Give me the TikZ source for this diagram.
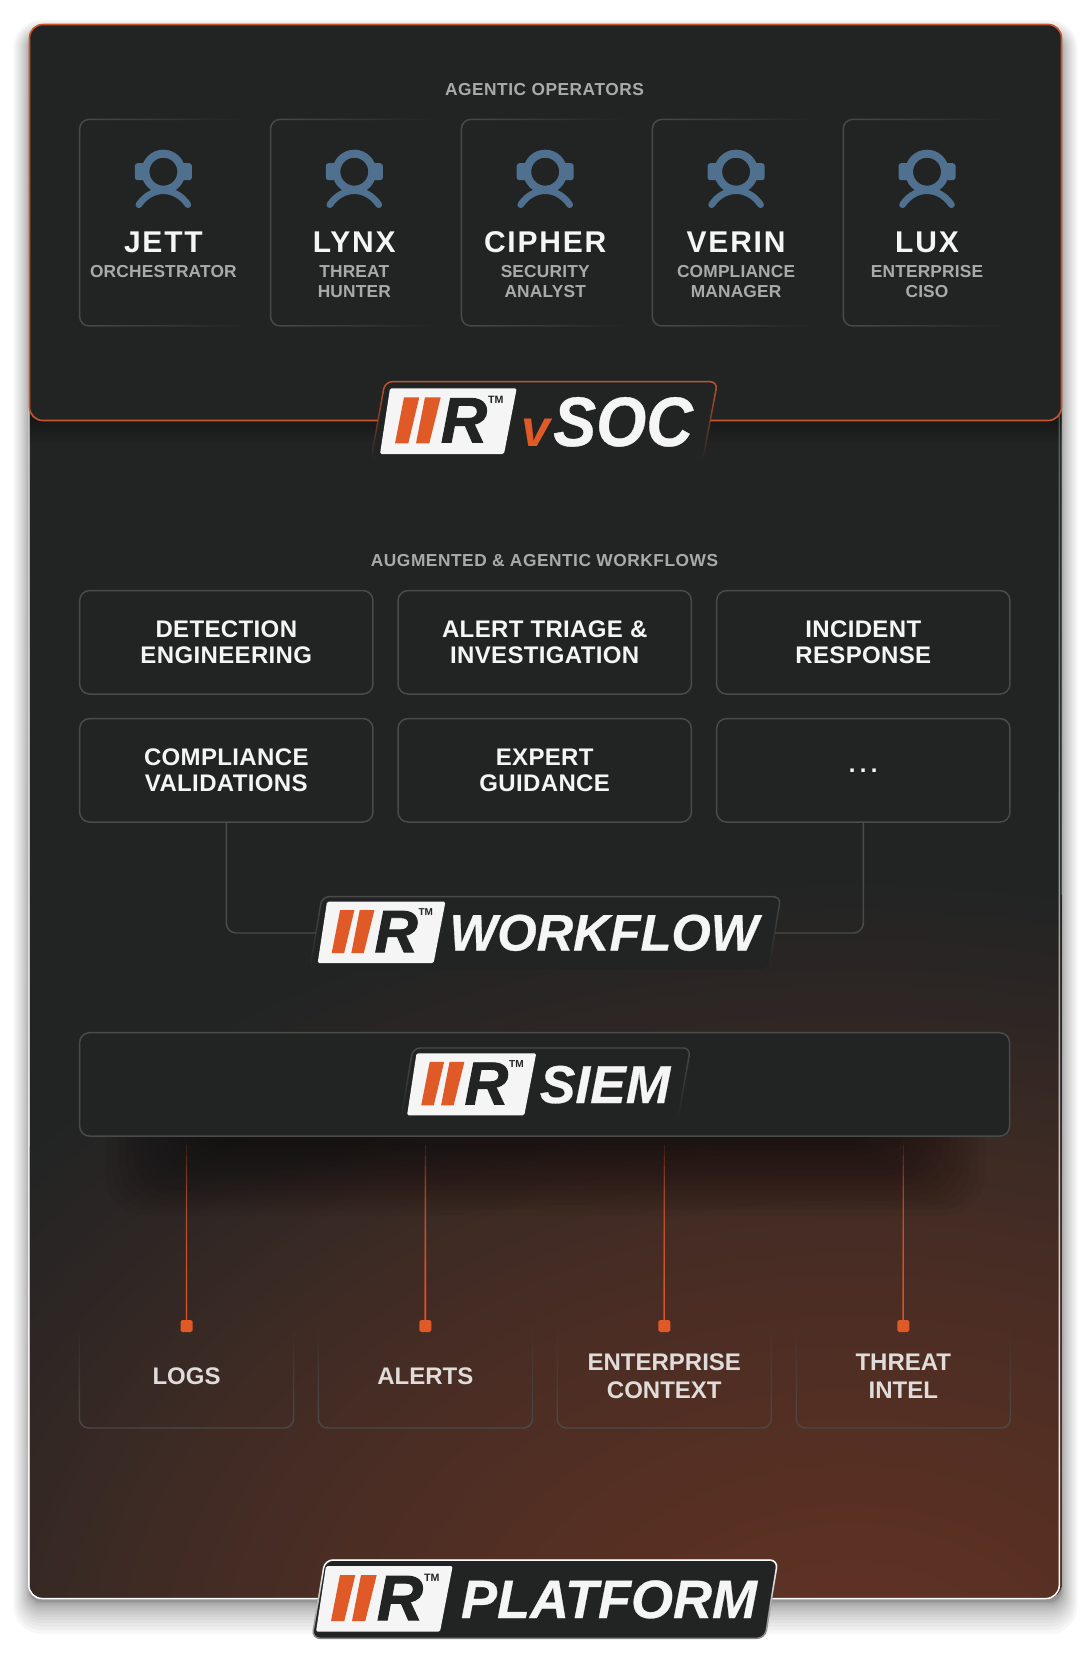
\documentclass[tikz,border=0pt]{standalone}
\usepackage{fontspec}
\usetikzlibrary{calc,fadings}
\setmainfont{Liberation Sans}

\definecolor{panelbg}{RGB}{34,36,36}
\definecolor{edgegray}{RGB}{74,74,74}
\definecolor{irorange}{RGB}{224,90,40}
\definecolor{panelorange}{RGB}{200,85,43}
\definecolor{iconblue}{RGB}{80,112,143}
\definecolor{paper}{RGB}{245,245,245}
\definecolor{rolegray}{RGB}{170,170,170}
\definecolor{srctext}{RGB}{224,220,218}
\definecolor{glowa}{RGB}{98,52,36}
\definecolor{glowb}{RGB}{85,47,35}
\definecolor{glowc}{RGB}{74,45,36}
\definecolor{glowd}{RGB}{59,42,36}
\definecolor{glowe}{RGB}{45,38,36}

\pgfdeclareradialshading{glowshade}{\pgfpoint{0bp}{0bp}}{color(0bp)=(glowa); color(7.5bp)=(glowb); color(12.5bp)=(glowc); color(17.5bp)=(glowd); color(21.25bp)=(glowe); color(25bp)=(panelbg); color(50bp)=(panelbg)}

\tikzfading[name=fadeboxeast, left color=transparent!0, middle color=transparent!30, right color=transparent!100]
\tikzfading[name=fadeboxtop, top color=transparent!100, middle color=transparent!30, bottom color=transparent!0]
\tikzfading[name=fadebadge, top color=transparent!0, bottom color=transparent!100]
\tikzfading[name=fadecard, top color=transparent!100, bottom color=transparent!0]

\newcommand{\sectionfont}{\bfseries\fontsize{13}{15}\selectfont\addfontfeatures{LetterSpace=3}}
\newcommand{\namefont}{\bfseries\fontsize{22.5}{27}\selectfont\addfontfeatures{LetterSpace=6}}
\newcommand{\rolefont}{\bfseries\fontsize{13}{15}\selectfont\addfontfeatures{LetterSpace=1}}
\newcommand{\flowfont}{\bfseries\fontsize{18}{20}\selectfont\addfontfeatures{LetterSpace=1.5}}
\newcommand{\srcfont}{\bfseries\fontsize{18}{20.6}\selectfont}

\tikzset{
  sectionlabel/.style={text=rolegray,font=\sectionfont,inner sep=0pt},
  opbox/.style={draw=edgegray,line width=1.1pt,rounded corners=7pt,inner sep=0pt,outer sep=0pt,minimum width=125pt,minimum height=154.9pt,path fading=fadeboxeast},
  opname/.style={text=paper,font=\namefont,inner sep=0pt},
  oprole/.style={text=rolegray,font=\rolefont,align=center,inner sep=0pt,anchor=north},
  flowbox/.style={draw=edgegray,fill=panelbg,line width=1.1pt,rounded corners=7.5pt,inner sep=0pt,outer sep=0pt,minimum width=220pt,minimum height=77.6pt},
  flowtext/.style={text=paper,font=\flowfont,align=center,inner sep=0pt},
  srcbox/.style={draw=edgegray,line width=1.1pt,rounded corners=7pt,inner sep=0pt,outer sep=0pt,minimum width=160.6pt,minimum height=77.25pt,path fading=fadeboxtop},
  srctextnode/.style={text=srctext,font=\srcfont,align=center,inner sep=0pt},
  srcdot/.style={fill=irorange,rounded corners=1.3pt,inner sep=0pt,outer sep=0pt,minimum size=9pt},
  srcline/.style={draw=irorange,line width=1pt,opacity=.18},
  connline/.style={draw=edgegray,line width=1.1pt,rounded corners=7.5pt},
  badgeghost/.style={inner sep=0pt,outer sep=0pt},
  logotext/.style={text=paper,inner sep=0pt,anchor=base},
  pics/irlogo/.style={code={
    \begin{scope}[yscale=-1,scale=#1]
    \fill[paper,rounded corners=1.2pt] (0,0) -- (126.7,0) -- (114,65.7) -- (-10,65.7) -- cycle;
    \fill[irorange] (14,9) -- (29.3,9) -- (18.3,55) -- (5,55) -- cycle;
    \fill[irorange] (35,9) -- (50.7,9) -- (39.3,55) -- (26,55) -- cycle;
    \node[scale=#1,text=panelbg,inner sep=0pt,font=\bfseries\itshape\fontsize{48}{50}\selectfont\addfontfeatures{FakeBold=1.5}] (-r) at (74,32) {R};
    \node[scale=#1,text=panelbg,inner sep=0pt,font=\bfseries\fontsize{8}{9}\selectfont] (-tm) at (105.7,11.5) {TM};
    \end{scope}
  }},
  pics/operatoricon/.style={code={
    \begin{scope}[yscale=-1]
    \draw[iconblue,line width=6pt] (0,-1) circle (18);
    \fill[iconblue,rounded corners=2pt] (-28.5,-9.5) rectangle (-17,7.5);
    \fill[iconblue,rounded corners=2pt] (17,-9.5) rectangle (28.5,7.5);
    \draw[iconblue,line width=5pt,line cap=round] (-24.5,32) .. controls (-18,22.5) and (-9,18) .. (0,18) .. controls (9,18) and (18,22.5) .. (24.5,32);
    \end{scope}
  }}
}

\begin{document}
\begin{tikzpicture}[x=0.75pt,y=0.75pt,yscale=-1,xscale=1]
\useasboundingbox (0,0) rectangle (1090,1662);

%Shape: Card shadow
\foreach \i in {0,...,16}{
  \pgfmathsetmacro{\grow}{\i*\i/16}
  \fill[black,opacity=.03,rounded corners=9pt+\grow*0.75pt] (29.5-\grow,36-\grow) rectangle (1061.5+\grow,1602+2*\grow);
}

%Shape: Card with glow
\begin{scope}
\clip[rounded corners=10pt] (29.5,24.5) rectangle (1061.5,1598);
\fill[panelbg] (29.5,24.5) rectangle (1061.5,1598);
\shade[shading=glowshade] (850,1680) ellipse (1100 and 800);
\foreach \i in {0,...,11}
  \fill[black,opacity=.026] (0,0) rectangle (1090,421+2*\i);
\foreach \i in {0,...,14}
  \fill[black,opacity=.035,rounded corners=30pt] (105+7*\i,1100) rectangle (985-7*\i,1215-5*\i);
\end{scope}
\draw[white,line width=1.1pt,rounded corners=10pt,path fading=fadecard] (29.5,24.5) rectangle (1061.5,1598);

%Shape: Top panel
\draw[panelorange,fill=panelbg,line width=1.2pt,rounded corners=10pt] (29.5,24.5) rectangle (1061.5,420.5);

% Text Node
\node[sectionlabel] (oplabel) at (544.5,89.7) {AGENTIC OPERATORS};

%Operators
\foreach \nm/\role [count=\i from 0] in {JETT/{ORCHESTRATOR},LYNX/{THREAT\\HUNTER},CIPHER/{SECURITY\\ANALYST},VERIN/{COMPLIANCE\\MANAGER},LUX/{ENTERPRISE\\CISO}}{
  \node[opbox] (opbox\i) at (163+190.9*\i,222.7) {};
  \pic at (163.4+190.9*\i,172.7) {operatoricon};
  \node[opname] (opname\i) at (163.4+190.9*\i,242.5) {\nm};
  \node[oprole] (oprole\i) at (163.4+190.9*\i,265) {\role};
}

%Shape: vSOC badge
\node[badgeghost,minimum width=240pt,minimum height=58pt] (socbadge) at (544.5,420.5) {};
\fill[panelbg,rounded corners=5.5pt] (385,381.7) -- (717.5,381.7) -- (703,459.3) -- (371,459.3) -- cycle;
\draw[panelorange,line width=1.1pt,rounded corners=5.5pt,path fading=fadebadge] (385,381.7) -- (717.5,381.7) -- (703,459.3) -- (371,459.3) -- cycle;
\pic (soclogo) at (390,388.3) {irlogo=1};
\node[logotext,text=irorange,font=\bfseries\itshape\fontsize{39}{40}\selectfont] (socv) at (536,446) {v};
\node[logotext,xscale=.92,font=\bfseries\itshape\fontsize{52.5}{54}\selectfont\addfontfeatures{FakeBold=.5}] (socname) at (623,446) {SOC};

% Text Node
\node[sectionlabel] (flowlabel) at (544.5,560.3) {AUGMENTED \& AGENTIC WORKFLOWS};

%Workflow boxes
\node[flowbox] (detect) at (226.3,642.3) {};
\node[flowbox] (triage) at (544.7,642.3) {};
\node[flowbox] (respond) at (863.3,642.3) {};
\node[flowbox] (validate) at (226.3,770.3) {};
\node[flowbox] (guide) at (544.7,770.3) {};
\node[flowbox] (more) at (863.3,770.3) {};
\node[flowtext] at (detect) {DETECTION\\ENGINEERING};
\node[flowtext] at (triage) {ALERT TRIAGE \&\\INVESTIGATION};
\node[flowtext] at (respond) {INCIDENT\\RESPONSE};
\node[flowtext] at (validate) {COMPLIANCE\\VALIDATIONS};
\node[flowtext] at (guide) {EXPERT\\GUIDANCE};
\node[flowtext,font=\flowfont\addfontfeatures{LetterSpace=18}] at (more) {...};

%Workflow badge
\node[badgeghost,minimum width=300pt,minimum height=54pt] (wfbadge) at (545,933) {};
\draw[connline] (validate.south) |- (wfbadge.west);
\draw[connline] (more.south) |- (wfbadge.east);
\fill[panelbg,rounded corners=5.5pt] (322,896.7) -- (781,896.7) -- (769,969.3) -- (310,969.3) -- cycle;
\draw[edgegray,line width=1.1pt,rounded corners=5.5pt,path fading=fadebadge] (322,896.7) -- (781,896.7) -- (769,969.3) -- (310,969.3) -- cycle;
\pic (wflogo) at (327,901.7) {irlogo=.935};
\node[logotext,xscale=.985,font=\bfseries\itshape\fontsize{38.5}{40}\selectfont\addfontfeatures{FakeBold=.5}] (wfname) at (604,950.5) {WORKFLOW};

%SIEM box
\node[flowbox,minimum width=697.5pt] (siem) at (544.6,1084.4) {};
\node[badgeghost,minimum width=200pt,minimum height=53pt] (siembadge) at (545.5,1083.7) {};
\draw[edgegray,line width=1.1pt,rounded corners=5.5pt,path fading=fadebadge] (413,1048) -- (690.5,1048) -- (678,1119.3) -- (401,1119.3) -- cycle;
\pic (siemlogo) at (416.5,1053.3) {irlogo=.945};
\node[logotext,font=\bfseries\itshape\fontsize{40}{42}\selectfont\addfontfeatures{FakeBold=.5}] (siemname) at (605,1103) {SIEM};

%Source boxes
\foreach \x/\nm/\lbl in {186.5/logs/{LOGS},425.4/alerts/{ALERTS},664.3/context/{ENTERPRISE\\CONTEXT},903.3/intel/{THREAT\\INTEL}}{
  \node[srcbox] (src\nm) at (\x,1376.5) {};
  \node[srctextnode] (txt\nm) at (\x,1376) {\lbl};
  \node[srcdot] (dot\nm) at (\x,1326) {};
  \coordinate (top\nm) at (\x,1145);
  \foreach \f in {0,0.06,...,0.9}
    \draw[srcline] ($(top\nm)!\f!(dot\nm.north)$) -- (dot\nm.north);
}

%Platform badge
\node[badgeghost,minimum width=330pt,minimum height=58pt] (platbadge) at (545,1599) {};
\fill[panelbg,rounded corners=6pt] (325,1560) -- (778,1560) -- (765,1638.3) -- (312,1638.3) -- cycle;
\draw[gray,line width=1.1pt,rounded corners=6pt] (325,1560) -- (778,1560) -- (765,1638.3) -- (312,1638.3) -- cycle;
\draw[white,line width=1.1pt,rounded corners=6pt,path fading=fadebadge] (325,1560) -- (778,1560) -- (765,1638.3) -- (312,1638.3) -- cycle;
\pic (platlogo) at (326,1566) {irlogo=1};
\node[logotext,font=\bfseries\itshape\fontsize{40.5}{42}\selectfont\addfontfeatures{FakeBold=.5}] (platname) at (609,1618) {PLATFORM};

\end{tikzpicture}
\end{document}
